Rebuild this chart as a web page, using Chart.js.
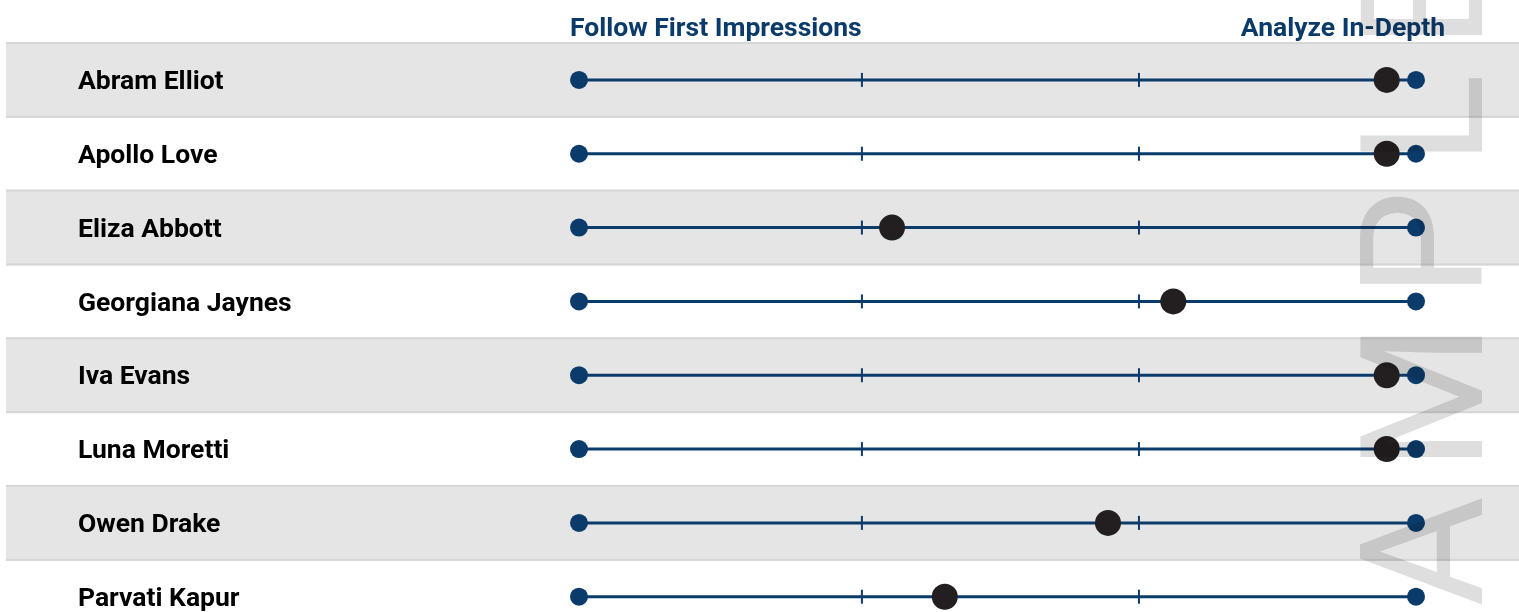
<!DOCTYPE html>
<html>
<head>
<meta charset="utf-8">
<script src="https://cdn.jsdelivr.net/npm/chart.js@4.4.1/dist/chart.umd.min.js"></script>
<style>
  html, body { margin: 0; padding: 0; background: #ffffff; }
  #wrap { width: 1519px; height: 612px; position: relative; }
</style>
</head>
<body>
<div id="wrap"><canvas id="chart" width="1519" height="612"></canvas></div>
<script>
// People rated on the decision-style scale (0 = first impressions, 100 = in-depth)
const people = [
  'Abram Elliot',
  'Apollo Love',
  'Eliza Abbott',
  'Georgiana Jaynes',
  'Iva Evans',
  'Luna Moretti',
  'Owen Drake',
  'Parvati Kapur'
];
const scores = [96.5, 96.5, 37.4, 71.0, 96.5, 96.5, 63.2, 43.7];
const scaleEnds = [0, 100];
const dividers = [33.8, 66.9];
const poleLabels = ['Follow First Impressions', 'Analyze In-Depth'];
const watermarkText = 'SAMPLE';

const NAVY = '#0b3b6b';
const INK = '#231f20';
const FONT = 'Roboto, "Noto Sans", Arial, sans-serif';

// One two-point line per person, from one end of the scale to the other
const rangeSets = people.map((p, i) => ({
  type: 'line',
  label: p,
  data: scaleEnds.map(v => ({ x: v, y: i })),
  borderColor: NAVY,
  borderWidth: 3,
  pointRadius: 9,
  pointHoverRadius: 9,
  pointBackgroundColor: NAVY,
  pointBorderWidth: 0,
  clip: false,
  order: 3
}));

const dividerSet = {
  type: 'scatter',
  label: 'dividers',
  data: people.flatMap((p, i) => dividers.map(v => ({ x: v, y: i }))),
  pointStyle: 'line',
  rotation: 90,
  pointRadius: 7,
  pointHoverRadius: 7,
  borderColor: NAVY,
  borderWidth: 2,
  clip: false,
  order: 2
};

const scoreSet = {
  type: 'scatter',
  label: 'score',
  data: scores.map((s, i) => ({ x: s, y: i })),
  pointRadius: 13,
  pointHoverRadius: 13,
  backgroundColor: INK,
  borderWidth: 0,
  clip: false,
  order: 1
};

// Alternating row bands, names and pole headings
const rowDecor = {
  id: 'rowDecor',
  beforeDatasetsDraw(chart) {
    const { ctx, scales: { x, y } } = chart;
    ctx.save();
    people.forEach((p, i) => {
      if (i % 2 !== 0) return;
      const top = y.getPixelForValue(i - 0.5) - 1;
      const bottom = y.getPixelForValue(i + 0.5) + 1;
      ctx.fillStyle = '#e5e5e5';
      ctx.fillRect(6, top, chart.width - 6, bottom - top);
      ctx.fillStyle = '#d6d6d6';
      ctx.fillRect(6, top, chart.width - 6, 2);
      ctx.fillRect(6, bottom - 2, chart.width - 6, 2);
    });
    ctx.fillStyle = '#000000';
    ctx.font = 'bold 26.5px ' + FONT;
    ctx.textAlign = 'left';
    ctx.textBaseline = 'middle';
    people.forEach((p, i) => {
      ctx.fillText(p, 78, y.getPixelForValue(i) + 2.5);
    });
    ctx.fillStyle = NAVY;
    const hy = y.getPixelForValue(-0.5) - 14;
    ctx.textAlign = 'left';
    ctx.fillText(poleLabels[0], x.getPixelForValue(scaleEnds[0]) - 9, hy);
    ctx.textAlign = 'right';
    ctx.fillText(poleLabels[1], x.getPixelForValue(scaleEnds[1]) + 29, hy);
    ctx.restore();
  }
};

// Vertical watermark along the right edge, multiplied over the chart
const watermark = {
  id: 'watermark',
  afterDraw(chart) {
    const { ctx } = chart;
    ctx.save();
    ctx.globalCompositeOperation = 'multiply';
    ctx.font = '170px ' + FONT;
    ctx.fillStyle = '#dedede';
    ctx.textBaseline = 'alphabetic';
    ctx.textAlign = 'left';
    ctx.translate(1482, 0);
    ctx.rotate(-Math.PI / 2);
    const spacing = 25;
    const first = ctx.measureText(watermarkText[0]).width;
    let pos = -(607 + spacing + first);
    for (const ch of watermarkText) {
      ctx.fillText(ch, pos, 0);
      pos += ctx.measureText(ch).width + spacing;
    }
    ctx.restore();
  }
};

const rowGap = 73.83;
const areaTop = 43;
const yMax = -0.5 + (612 - areaTop) / rowGap;

new Chart(document.getElementById('chart'), {
  data: { datasets: [scoreSet, dividerSet, ...rangeSets] },
  options: {
    responsive: false,
    animation: false,
    events: [],
    layout: { autoPadding: false, padding: { left: 579, right: 1519 - 1416, top: areaTop, bottom: 0 } },
    scales: {
      x: { type: 'linear', min: scaleEnds[0], max: scaleEnds[1], display: false },
      y: { type: 'linear', min: -0.5, max: yMax, reverse: true, display: false }
    },
    plugins: { legend: { display: false }, tooltip: { enabled: false } }
  },
  plugins: [rowDecor, watermark]
});
</script>
</body>
</html>
